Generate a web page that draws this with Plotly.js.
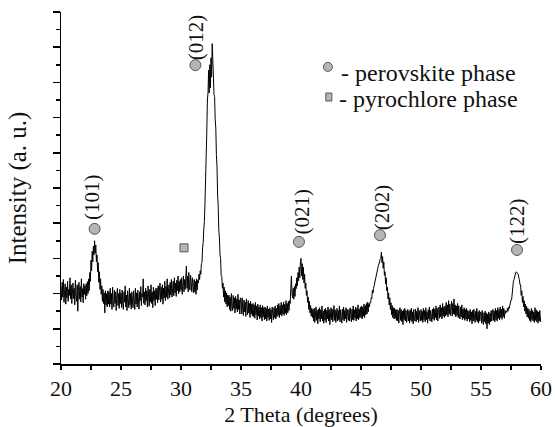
<!DOCTYPE html>
<html>
<head>
<meta charset="utf-8">
<script src="https://cdn.plot.ly/plotly-3.0.1.min.js"></script>
<style>html,body{margin:0;padding:0;background:#fff;}#chart{width:555px;height:427px;}</style>
</head>
<body>
<div id="chart"></div>
<script>
// XRD scan: start angle and step (degrees 2θ)
const thetaStart = 20;
const thetaStep = 0.05;
// Intensity (a. u.), one value per step from 20.00 to 60.00 (20 values per degree)
const intensity = [
2.20,1.82,2.32,1.90,2.40,1.75,2.08,2.28,1.70,2.18,1.88,2.35,1.78,2.12,1.95,2.45,1.85,2.25,1.72,2.10,
2.30,1.86,2.15,1.68,2.38,1.95,1.78,2.25,1.50,2.10,2.32,1.84,2.20,1.76,2.42,1.90,2.14,1.74,2.28,1.98,
2.22,1.84,2.28,1.94,2.34,2.00,2.42,2.08,2.60,2.35,2.95,2.65,3.20,2.90,3.35,3.10,3.50,3.15,3.38,2.90,
3.10,2.62,2.88,2.32,2.62,2.12,2.42,1.98,2.22,1.78,2.12,1.72,2.02,1.45,2.08,1.68,2.00,1.62,2.08,1.70,
2.05,1.62,2.15,1.70,2.00,1.55,2.18,1.76,1.62,2.10,1.72,2.05,1.52,1.95,2.15,1.66,2.00,1.58,2.12,1.72,
2.02,1.60,2.10,1.70,1.55,2.05,1.76,2.22,1.62,1.96,1.52,2.08,1.74,1.60,2.15,1.68,2.00,1.56,2.05,1.70,
1.60,2.08,1.76,1.55,2.15,1.70,2.02,1.62,2.10,1.74,1.56,2.05,1.80,2.20,1.66,2.00,1.90,2.42,1.72,2.05,
1.68,2.15,1.80,2.08,1.62,2.22,1.84,1.64,2.12,1.76,2.25,1.72,2.05,1.60,2.18,1.80,2.08,1.66,2.15,1.84,
2.15,1.74,2.22,1.82,2.08,2.30,1.76,2.18,1.84,2.25,1.70,2.15,1.88,2.35,1.80,2.20,1.90,2.42,1.84,2.15,
2.25,1.88,2.32,1.96,2.40,1.90,2.20,2.35,1.94,2.45,2.02,2.30,1.92,2.38,2.08,2.50,2.00,2.35,2.05,2.40,
2.10,2.45,1.98,2.38,2.50,2.05,2.40,2.12,2.55,2.78,2.15,2.50,2.05,2.60,2.22,2.10,2.52,2.20,2.05,2.45,
2.12,2.02,2.40,2.05,2.35,1.98,2.42,2.10,2.38,2.30,2.55,2.40,2.65,2.55,2.85,2.88,3.30,3.45,3.85,4.05,
4.60,5.10,6.10,6.60,7.50,7.70,8.35,7.70,8.50,7.85,8.70,8.15,9.10,8.25,8.20,7.65,7.60,6.95,6.70,5.95,
5.60,4.80,4.50,3.80,3.60,3.10,3.00,2.50,2.48,2.15,2.30,1.90,2.18,1.76,2.08,1.70,2.02,1.62,1.96,1.66,
1.95,1.55,1.90,1.50,2.00,1.62,1.52,1.95,1.58,1.88,1.45,1.92,1.56,1.85,1.48,1.98,1.55,1.82,1.42,1.88,
1.80,1.42,1.88,1.52,1.38,1.82,1.48,1.76,1.35,1.85,1.52,1.40,1.80,1.45,1.72,1.32,1.78,1.42,1.70,1.36,
1.72,1.35,1.68,1.30,1.75,1.40,1.65,1.25,1.70,1.36,1.62,1.28,1.68,1.32,1.60,1.22,1.66,1.34,1.60,1.26,
1.62,1.28,1.58,1.22,1.65,1.32,1.56,1.24,1.60,1.28,1.55,1.18,1.62,1.30,1.26,1.60,1.32,1.65,1.28,1.58,
1.34,1.68,1.38,1.72,1.32,1.65,1.40,1.75,1.36,1.68,1.42,1.76,1.38,1.70,1.44,1.80,1.40,1.72,1.46,1.78,
1.52,1.80,1.72,2.15,2.50,2.00,1.88,2.15,1.84,2.20,1.92,2.28,2.14,2.45,2.22,2.60,2.36,2.75,2.45,2.90,
3.00,2.50,2.85,2.40,2.75,2.30,2.55,2.15,2.30,1.95,2.08,1.75,1.90,1.55,1.78,1.45,1.66,1.36,1.58,1.32,
1.55,1.22,1.58,1.18,1.50,1.62,1.24,1.52,1.14,1.56,1.28,1.60,1.20,1.54,1.28,1.65,1.22,1.50,1.16,1.55,
1.24,1.58,1.18,1.52,1.28,1.62,1.22,1.55,1.12,1.50,1.60,1.26,1.56,1.20,1.52,1.66,1.24,1.54,1.18,1.50,
1.58,1.22,1.52,1.26,1.65,1.20,1.54,1.30,1.16,1.56,1.26,1.62,1.22,1.52,1.28,1.60,1.18,1.55,1.30,1.24,
1.55,1.22,1.60,1.30,1.20,1.56,1.26,1.65,1.24,1.54,1.30,1.62,1.22,1.58,1.28,1.68,1.26,1.56,1.32,1.62,
1.32,1.65,1.28,1.62,1.36,1.70,1.32,1.66,1.40,1.72,1.42,1.76,1.48,1.72,1.62,1.75,1.74,1.88,1.86,2.10,
2.02,2.15,2.22,2.30,2.36,2.48,2.54,2.65,2.72,2.80,2.84,2.90,2.98,3.00,3.18,2.88,3.05,2.72,2.90,2.52,
2.62,2.28,2.45,2.08,2.18,1.85,2.02,1.68,1.88,1.55,1.74,1.40,1.66,1.32,1.60,1.28,1.58,1.30,1.54,1.24,
1.55,1.22,1.52,1.16,1.50,1.60,1.24,1.55,1.20,1.50,1.12,1.54,1.26,1.58,1.22,1.52,1.18,1.48,1.55,1.22,
1.50,1.16,1.54,1.24,1.58,1.20,1.48,1.14,1.55,1.26,1.22,1.56,1.20,1.50,1.26,1.60,1.18,1.52,1.28,1.22,
1.55,1.24,1.50,1.18,1.58,1.26,1.52,1.20,1.60,1.26,1.48,1.16,1.54,1.28,1.62,1.22,1.52,1.26,1.20,1.56,
1.28,1.60,1.24,1.56,1.32,1.65,1.26,1.58,1.22,1.55,1.62,1.30,1.68,1.34,1.60,1.28,1.72,1.36,1.62,1.32,
1.65,1.36,1.75,1.40,1.68,1.34,1.80,1.42,1.70,1.38,1.65,1.78,1.36,1.72,1.42,1.85,1.40,1.68,1.34,1.65,
1.38,1.72,1.32,1.65,1.36,1.28,1.62,1.34,1.68,1.26,1.56,1.30,1.60,1.24,1.55,1.28,1.58,1.22,1.52,1.28,
1.50,1.20,1.55,1.24,1.48,1.14,1.52,1.22,1.56,1.26,1.18,1.50,1.24,1.58,1.20,1.48,1.16,1.52,1.22,1.46,
1.48,1.16,1.52,1.22,1.12,1.46,1.20,1.50,1.14,1.45,1.00,1.42,1.16,1.48,1.12,1.44,1.20,1.52,1.22,1.46,
1.55,1.24,1.50,1.20,1.58,1.26,1.52,1.22,1.60,1.30,1.54,1.25,1.62,1.32,1.56,1.27,1.65,1.34,1.58,1.30,
1.52,1.44,1.50,1.47,1.58,1.50,1.62,1.58,1.70,1.68,1.82,1.82,2.05,2.05,2.35,2.40,2.50,2.55,2.60,2.62,
2.60,2.55,2.55,2.45,2.40,2.25,2.25,1.95,2.08,1.75,1.92,1.62,1.80,1.50,1.70,1.42,1.64,1.34,1.58,1.30,
1.55,1.24,1.50,1.20,1.58,1.26,1.52,1.22,1.48,1.18,1.60,1.24,1.54,1.20,1.50,1.16,1.48,1.22,1.52,1.20,
1.35
];

// Perovskite peak markers and their (hkl) labels
const peakLabels = ['(101)', '(012)', '(021)', '(202)', '(122)'];
const peakMarkX = [22.8, 31.2, 39.83, 46.58, 58.0];
const peakMarkY = [3.84, 8.49, 3.47, 3.66, 3.24];
const peakLabelX = [22.58, 31.25, 40.08, 46.75, 58.0];
const peakLabelY = [4.74, 9.28, 4.33, 4.45, 4.06];
// Pyrochlore marker
const pyroMarkX = [30.25];
const pyroMarkY = [3.30];
// Legend texts
const legendNames = ['- perovskite phase', '- pyrochlore phase'];

const FONT = 'Liberation Serif, Times New Roman, serif';
const INK = '#111111';
const MARK_FILL = '#b5b5b5';
const MARK_LINE = '#555555';

const traces = [
  {
    type: 'scatter', mode: 'lines',
    x0: thetaStart, dx: thetaStep, y: intensity,
    line: {color: '#000000', width: 1},
    showlegend: false, hoverinfo: 'skip'
  },
  {
    type: 'scatter', mode: 'markers', name: legendNames[0],
    x: peakMarkX, y: peakMarkY,
    marker: {symbol: 'circle', size: 11, color: MARK_FILL, line: {color: MARK_LINE, width: 1}},
    showlegend: false
  },
  {
    type: 'scatter', mode: 'markers', name: legendNames[1],
    x: pyroMarkX, y: pyroMarkY,
    marker: {symbol: 'square', size: 8, color: MARK_FILL, line: {color: MARK_LINE, width: 1}},
    showlegend: false
  }
];

const annotations = peakLabels.map((t, i) => ({
  x: peakLabelX[i], y: peakLabelY[i], xref: 'x', yref: 'y',
  text: t, showarrow: false, textangle: -90,
  xanchor: 'center', yanchor: 'middle',
  font: {family: FONT, size: 21, color: INK}
}));
annotations.push(
  {x: 0.579, y: 0.827, xref: 'paper', yref: 'paper', text: legendNames[0], showarrow: false,
   xanchor: 'left', yanchor: 'middle', font: {family: FONT, size: 24, color: INK}},
  {x: 0.575, y: 0.753, xref: 'paper', yref: 'paper', text: legendNames[1], showarrow: false,
   xanchor: 'left', yanchor: 'middle', font: {family: FONT, size: 24, color: INK}}
);

const shapes = [
  {type: 'circle', xref: 'paper', yref: 'paper', xsizemode: 'pixel', ysizemode: 'pixel',
   xanchor: 0.556, yanchor: 0.844, x0: -4.5, x1: 4.5, y0: -4.5, y1: 4.5,
   fillcolor: MARK_FILL, line: {color: MARK_LINE, width: 1}},
  {type: 'rect', xref: 'paper', yref: 'paper', xsizemode: 'pixel', ysizemode: 'pixel',
   xanchor: 0.558, yanchor: 0.7585, x0: -3, x1: 3, y0: -4, y1: 4,
   fillcolor: MARK_FILL, line: {color: MARK_LINE, width: 1}}
];

const layout = {
  width: 555, height: 427,
  margin: {l: 61, r: 14, t: 12, b: 63, pad: 0},
  paper_bgcolor: '#ffffff', plot_bgcolor: '#ffffff',
  font: {family: FONT, color: INK},
  showlegend: false,
  xaxis: {
    range: [20, 60], dtick: 5, tick0: 20,
    ticks: 'outside', ticklen: 4, tickwidth: 1.5, tickcolor: '#000',
    minor: {dtick: 2.5, ticks: 'outside', ticklen: 4, tickwidth: 1.5, tickcolor: '#000'},
    showline: true, linecolor: '#000', linewidth: 1.5,
    showgrid: false, zeroline: false,
    tickfont: {family: FONT, size: 22, color: INK},
    title: {text: '2 Theta (degrees)', font: {family: FONT, size: 22, color: INK}, standoff: 8}
  },
  yaxis: {
    range: [0, 10], dtick: 1, tick0: 0,
    ticks: 'outside', ticklen: 7, tickwidth: 1.5, tickcolor: '#000',
    minor: {dtick: 0.5, ticks: 'outside', ticklen: 4, tickwidth: 1.5, tickcolor: '#000'},
    showline: true, linecolor: '#000', linewidth: 1.5,
    showgrid: false, zeroline: false, showticklabels: false,
    title: {text: 'Intensity (a. u.)', font: {family: FONT, size: 25, color: INK}, standoff: 19}
  },
  annotations: annotations,
  shapes: shapes
};

Plotly.newPlot('chart', traces, layout, {displayModeBar: false, staticPlot: true});
</script>
</body>
</html>
